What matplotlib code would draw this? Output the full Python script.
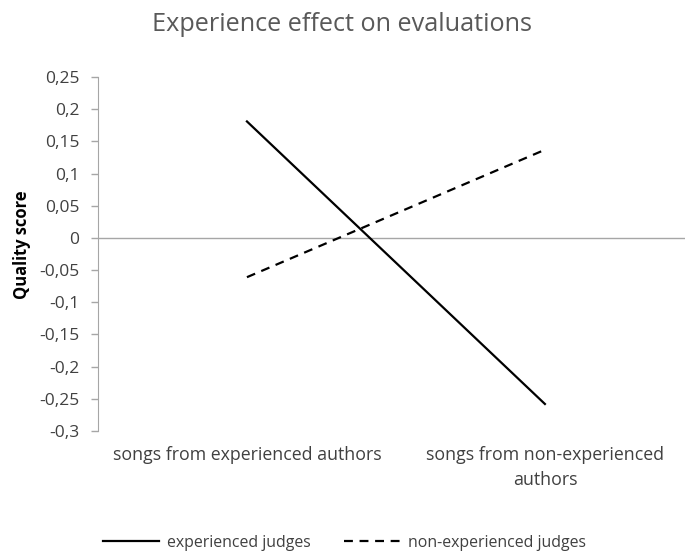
import matplotlib.pyplot as plt
import numpy as np

plt.rcParams['font.family'] = ['Open Sans', 'DejaVu Sans']

# data
categories = ['songs from experienced authors', 'songs from non-experienced\nauthors']
experienced_judges = [0.181, -0.258]
non_experienced_judges = [-0.061, 0.137]
y_ticks = np.round(np.arange(-0.3, 0.2501, 0.05), 2)


def fmt(v):
    if abs(v) < 1e-9:
        return '0'
    return f'{v:g}'.replace('.', ',')


fig = plt.figure(figsize=(6.85, 5.55), dpi=100)
ax = fig.add_axes([0.143, 0.2234, 0.870, 0.6378])

x = np.arange(len(categories))
ax.plot(x, experienced_judges, color='black', linewidth=1.6, label='experienced judges')
ax.plot(x, non_experienced_judges, color='black', linewidth=1.6, linestyle=(0, (4, 3)),
        label='non-experienced judges')

ax.axhline(0, color='#a6a6a6', linewidth=1, zorder=0)
ax.set_xlim(-0.5, 1.5)
ax.set_ylim(-0.3, 0.25)
ax.set_yticks(y_ticks)
ax.set_yticklabels([fmt(v) for v in y_ticks], fontsize=12.5, color='#404040')
ax.set_xticks(x)
ax.set_xticklabels(categories, fontsize=12.8, color='#404040', ha='center', linespacing=1.5)
ax.tick_params(axis='x', length=0, pad=11)
ax.tick_params(axis='y', length=5, color='#a6a6a6', width=1, pad=8.5)

for s in ['top', 'right', 'bottom']:
    ax.spines[s].set_visible(False)
ax.spines['left'].set_color('#a6a6a6')

ax.set_ylabel('Quality score', fontsize=11.9, fontweight='bold')
ax.yaxis.set_label_coords(-0.113, 0.525)

fig.text(0.5, 1 - 31 / 555, 'Experience effect on evaluations', fontsize=18.2,
         color='#595959', ha='center', va='baseline')

fig.legend(loc='center', bbox_to_anchor=(0.503, 0.022), ncol=2, frameon=False,
           fontsize=11.4, handlelength=3.5, handletextpad=0.5, columnspacing=2.15,
           labelcolor='#404040')

plt.savefig('out.png', dpi=100, facecolor='white')
